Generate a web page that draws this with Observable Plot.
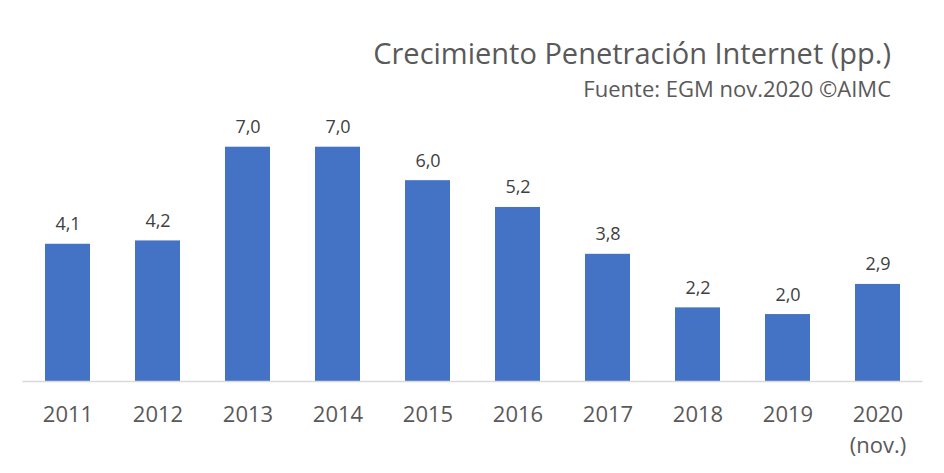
<!DOCTYPE html>
<html>
<head>
<meta charset="utf-8">
<script src="https://cdn.jsdelivr.net/npm/d3@7"></script>
<script src="https://cdn.jsdelivr.net/npm/@observablehq/plot@0.6"></script>
<style>
  html, body { margin: 0; padding: 0; background: #fff; }
  #wrap { position: relative; width: 944px; height: 473px; font-family: "Open Sans", sans-serif; }
  .t { position: absolute; right: 53px; white-space: nowrap; color: #595959; line-height: 1; }
  #title { top: 37.5px; font-size: 29px; }
  #sub { top: 76.5px; font-size: 22px; }
</style>
</head>
<body>
<div id="wrap">
  <div id="title" class="t">Crecimiento Penetración Internet (pp.)</div>
  <div id="sub" class="t">Fuente: EGM nov.2020 ©AIMC</div>
  <div id="chart"></div>
</div>
<script>
const years = ["2011","2012","2013","2014","2015","2016","2017","2018","2019","2020"];
const values = [4.1, 4.2, 7.0, 7.0, 6.0, 5.2, 3.8, 2.2, 2.0, 2.9];
const tickLabels = ["2011","2012","2013","2014","2015","2016","2017","2018","2019","2020\n(nov.)"];

const data = years.map((y, i) => ({year: y, value: values[i]}));
const fmt = v => v.toFixed(1).replace(".", ",");

const chart = Plot.plot({
  width: 944,
  height: 473,
  marginLeft: 22.5,
  marginRight: 21.5,
  marginTop: 146.7,
  marginBottom: 92,
  style: {fontFamily: "Open Sans, sans-serif", background: "transparent"},
  x: {domain: years, paddingInner: 0.5, paddingOuter: 0.25},
  y: {domain: [0, 7], axis: null},
  marks: [
    Plot.barY(data, {x: "year", y: "value", fill: "#4472C4"}),
    Plot.ruleY([0], {stroke: "#d9d9d9", strokeWidth: 1.5}),
    Plot.text(data, {x: "year", y: "value", text: d => fmt(d.value), lineAnchor: "bottom", dy: -14, fontSize: 18, fill: "#404040"}),
    Plot.axisX({tickSize: 0, tickPadding: 19, fontSize: 22, fill: "#595959", lineHeight: 1.4,
      tickFormat: (d, i) => tickLabels[years.indexOf(d)], label: null})
  ]
});
document.getElementById("chart").appendChild(chart);
</script>
</body>
</html>
